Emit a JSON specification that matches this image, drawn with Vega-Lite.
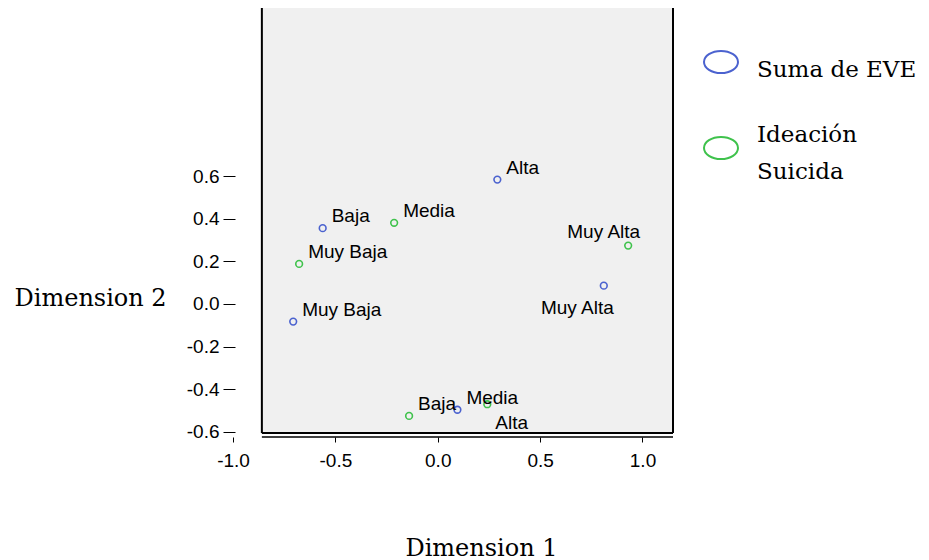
{
  "$schema": "https://vega.github.io/schema/vega-lite/v6.json",
  "background": "white",
  "autosize": {"type": "none"},
  "padding": {"left": 233, "top": 8, "right": 256, "bottom": 123},
  "width": 440,
  "height": 429,
  "datasets": {
    "puntos": [
      {"serie": "Suma de EVE", "categoria": "Alta", "dim1": 0.291, "dim2": 0.584},
      {"serie": "Suma de EVE", "categoria": "Baja", "dim1": -0.562, "dim2": 0.356},
      {"serie": "Suma de EVE", "categoria": "Muy Baja", "dim1": -0.706, "dim2": -0.083},
      {"serie": "Suma de EVE", "categoria": "Muy Alta", "dim1": 0.811, "dim2": 0.086},
      {"serie": "Suma de EVE", "categoria": "Media", "dim1": 0.096, "dim2": -0.497},
      {"serie": "Ideación Suicida", "categoria": "Media", "dim1": -0.213, "dim2": 0.381},
      {"serie": "Ideación Suicida", "categoria": "Muy Baja", "dim1": -0.677, "dim2": 0.188},
      {"serie": "Ideación Suicida", "categoria": "Muy Alta", "dim1": 0.93, "dim2": 0.274},
      {"serie": "Ideación Suicida", "categoria": "Baja", "dim1": -0.14, "dim2": -0.526},
      {"serie": "Ideación Suicida", "categoria": "Alta", "dim1": 0.242, "dim2": -0.471}
    ],
    "marco": [{}]
  },
  "data": {"name": "puntos"},
  "config": {
    "view": {"fill": null, "stroke": null},
    "style": {"guide-label": {"lineHeight": 37}},
    "axis": {
      "grid": false,
      "labelFont": "Liberation Sans",
      "labelFontSize": 19,
      "labelColor": "black",
      "tickColor": "black",
      "domainColor": "black",
      "titleFont": "DejaVu Serif",
      "titleFontSize": 24,
      "titleFontWeight": "normal",
      "titleColor": "black"
    }
  },
  "layer": [
    {
      "data": {"name": "marco"},
      "mark": {"type": "rect", "fill": "#f0f0f0"},
      "encoding": {
        "x": {"datum": -0.859, "type": "quantitative"},
        "x2": {"datum": 1.149},
        "y": {"datum": -0.606, "type": "quantitative"},
        "y2": {"datum": 1.39}
      }
    },
    {
      "data": {"name": "marco"},
      "mark": {"type": "rule", "color": "black", "strokeWidth": 2},
      "encoding": {
        "x": {"datum": -0.859, "type": "quantitative"},
        "y": {"datum": -0.606, "type": "quantitative"},
        "y2": {"datum": 1.39}
      }
    },
    {
      "data": {"name": "marco"},
      "mark": {"type": "rule", "color": "black", "strokeWidth": 2},
      "encoding": {
        "x": {"datum": 1.149, "type": "quantitative"},
        "y": {"datum": -0.606, "type": "quantitative"},
        "y2": {"datum": 1.39}
      }
    },
    {
      "data": {"name": "marco"},
      "mark": {"type": "rule", "color": "black", "strokeWidth": 2},
      "encoding": {
        "x": {"datum": -0.859, "type": "quantitative"},
        "x2": {"datum": 1.149},
        "y": {"datum": -0.606, "type": "quantitative"}
      }
    },
    {
      "data": {"name": "marco"},
      "mark": {"type": "rule", "color": "black", "strokeWidth": 1.5},
      "encoding": {
        "x": {"datum": -0.859, "type": "quantitative"},
        "x2": {"datum": 1.149},
        "y": {"datum": -0.625, "type": "quantitative"}
      }
    },
    {
      "mark": {"type": "point", "shape": "circle", "filled": false, "size": 45, "strokeWidth": 1.6, "opacity": 1},
      "encoding": {
        "x": {
          "field": "dim1",
          "type": "quantitative",
          "scale": {"domain": [-1.0, 1.149], "nice": false, "zero": false},
          "axis": {
            "title": "Dimension 1",
            "values": [-1, -0.5, 0, 0.5, 1],
            "labelExpr": "datum.value < 0 ? '-' + format(-datum.value, '.1f') : format(datum.value, '.1f')",
            "domain": false,
            "offset": 0,
            "tickSize": 5,
            "labelPadding": 9,
            "labelFlush": false,
            "labelOverlap": false,
            "titleX": 248,
            "titleY": 118,
            "titleAlign": "center",
            "titleBaseline": "alphabetic"
          }
        },
        "y": {
          "field": "dim2",
          "type": "quantitative",
          "scale": {"domain": [-0.625, 1.39], "nice": false, "zero": false},
          "axis": {
            "title": "Dimension 2",
            "values": [-0.6, -0.4, -0.2, 0, 0.2, 0.4, 0.6],
            "labelExpr": "datum.value < 0 ? '-' + format(-datum.value, '.1f') : format(datum.value, '.1f')",
            "offset": -2,
            "domain": false,
            "tickSize": 12,
            "labelPadding": 4,
            "labelOverlap": false,
            "titleAngle": 0,
            "titleAlign": "left",
            "titleBaseline": "alphabetic",
            "titleX": -221,
            "titleY": 297
          }
        },
        "color": {
          "field": "serie",
          "type": "nominal",
          "scale": {"domain": ["Suma de EVE", "Ideación Suicida"], "range": ["#4b62cf", "#3fc24c"]},
          "legend": {
            "title": null,
            "orient": "none",
            "legendX": 470,
            "legendY": 36,
            "symbolType": "M-1,0A1,0.65 0 1,0 1,0A1,0.65 0 1,0 -1,0Z",
            "symbolSize": 1156,
            "symbolStrokeWidth": 2,
            "labelFont": "DejaVu Serif",
            "labelFontSize": 23,
            "labelColor": "black",
            "labelOffset": 18,
            "labelLimit": 300,
            "rowPadding": 42,
            "labelExpr": "datum.label == 'Ideación Suicida' ? ['Ideación', 'Suicida'] : datum.label",
            "encoding": {"labels": {"dy": {"value": {"expr": "datum.value == 'Ideación Suicida' ? -13 : 8"}}}}
          }
        }
      }
    },
    {
      "transform": [{"filter": "!((datum.categoria == 'Muy Alta') || (datum.serie == 'Ideación Suicida' && datum.categoria == 'Alta'))"}],
      "mark": {"type": "text", "align": "left", "baseline": "alphabetic", "dx": 9, "dy": -6, "font": "Liberation Sans", "fontSize": 19, "color": "black"},
      "encoding": {
        "x": {"field": "dim1", "type": "quantitative"},
        "y": {"field": "dim2", "type": "quantitative"},
        "text": {"field": "categoria"}
      }
    },
    {
      "transform": [{"filter": "datum.serie == 'Ideación Suicida' && datum.categoria == 'Muy Alta'"}],
      "mark": {"type": "text", "align": "right", "baseline": "alphabetic", "dx": 12, "dy": -8, "font": "Liberation Sans", "fontSize": 19, "color": "black"},
      "encoding": {
        "x": {"field": "dim1", "type": "quantitative"},
        "y": {"field": "dim2", "type": "quantitative"},
        "text": {"field": "categoria"}
      }
    },
    {
      "transform": [{"filter": "datum.serie == 'Suma de EVE' && datum.categoria == 'Muy Alta'"}],
      "mark": {"type": "text", "align": "right", "baseline": "alphabetic", "dx": 10, "dy": 28, "font": "Liberation Sans", "fontSize": 19, "color": "black"},
      "encoding": {
        "x": {"field": "dim1", "type": "quantitative"},
        "y": {"field": "dim2", "type": "quantitative"},
        "text": {"field": "categoria"}
      }
    },
    {
      "transform": [{"filter": "datum.serie == 'Ideación Suicida' && datum.categoria == 'Alta'"}],
      "mark": {"type": "text", "align": "left", "baseline": "alphabetic", "dx": 8, "dy": 25, "font": "Liberation Sans", "fontSize": 19, "color": "black"},
      "encoding": {
        "x": {"field": "dim1", "type": "quantitative"},
        "y": {"field": "dim2", "type": "quantitative"},
        "text": {"field": "categoria"}
      }
    }
  ]
}
